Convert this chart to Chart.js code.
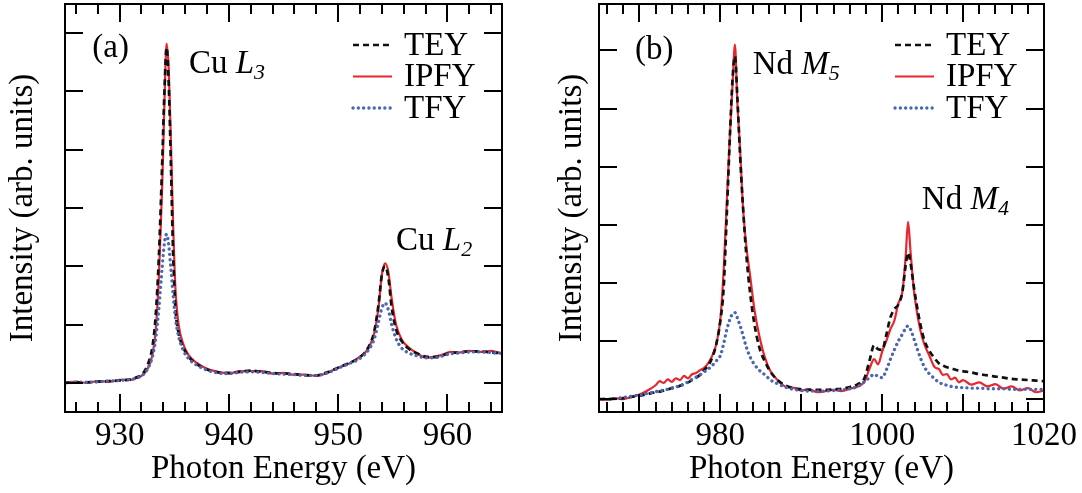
<!DOCTYPE html>
<html><head><meta charset="utf-8">
<script src="https://cdn.jsdelivr.net/npm/chart.js@4.4.1/dist/chart.umd.min.js"></script>
<style>
html,body{margin:0;padding:0;background:#fff;}
#wrap{position:relative;width:1082px;height:493px;overflow:hidden;}
canvas{position:absolute;top:0;}
</style></head><body>
<div id="wrap">
<canvas id="ca" width="540" height="493" style="left:0px;width:540px;height:493px"></canvas>
<canvas id="cb" width="542" height="493" style="left:540px;width:542px;height:493px"></canvas>
</div>
<script>
// ---------------- DATA ----------------
const seriesNames = ['TEY', 'IPFY', 'TFY'];

// Panel (a): Cu L-edge
const energyA = [925,926,927,928,929,930,931,931.5,932,932.5,933,933.3,933.6,933.9,934.1,934.3,934.5,934.7,934.9,935.1,935.4,935.8,936.3,937,938,939,940,941,942,943,944,945,946,947,948,949,950,951,952,952.8,953.3,953.7,954.0,954.3,954.6,954.9,955.3,955.8,956.5,957.3,958,958.8,959.5,960.3,961,962,963,964,965];
const teyA = [0.0,0.01,0.01,0.02,0.03,0.04,0.06,0.09,0.14,0.28,0.62,1.15,2.2,3.8,5.0,5.75,5.1,3.7,2.2,1.3,0.85,0.62,0.45,0.33,0.23,0.18,0.17,0.19,0.21,0.19,0.17,0.16,0.15,0.13,0.13,0.18,0.26,0.34,0.44,0.62,0.88,1.35,1.85,2.0,1.8,1.3,0.92,0.72,0.58,0.5,0.45,0.44,0.47,0.51,0.52,0.54,0.54,0.52,0.51];
const ipfyA = [0.0,0.02,0.0,0.03,0.02,0.05,0.05,0.08,0.12,0.22,0.48,0.9,1.85,3.4,4.8,5.82,5.35,4.1,2.7,1.65,1.0,0.68,0.48,0.35,0.24,0.19,0.16,0.2,0.2,0.2,0.16,0.17,0.14,0.14,0.12,0.17,0.26,0.33,0.45,0.6,0.85,1.3,1.85,2.05,1.9,1.45,1.0,0.75,0.6,0.5,0.43,0.45,0.48,0.53,0.52,0.55,0.53,0.55,0.5];
const tfyA = [0.0,0.01,0.01,0.02,0.03,0.04,0.06,0.08,0.12,0.22,0.45,0.75,1.3,2.0,2.4,2.55,2.35,1.95,1.5,1.12,0.8,0.57,0.42,0.31,0.22,0.17,0.16,0.18,0.19,0.18,0.16,0.15,0.14,0.13,0.13,0.17,0.25,0.33,0.42,0.57,0.75,1.05,1.28,1.37,1.25,1.0,0.76,0.6,0.51,0.46,0.43,0.43,0.46,0.5,0.51,0.53,0.53,0.52,0.51];

// Panel (b): Nd M-edge
const energyB = [965,966,967,968,969,970,971,972,972.5,973,973.5,974,974.5,975,975.5,976,976.5,977,977.5,978,978.5,979,979.5,980,980.4,980.8,981.2,981.5,981.8,982.1,982.4,982.8,983.2,983.7,984.2,984.8,985.5,986.2,987,988,989,990,991,992,993,994,995,996,997,997.8,998.5,999,999.5,1000,1000.5,1001,1001.5,1002,1002.5,1002.9,1003.2,1003.5,1003.9,1004.3,1004.7,1005.2,1005.8,1006.5,1007,1007.5,1008,1008.5,1009,1009.5,1010,1011,1012,1013,1014,1015,1016,1017,1018,1019,1020];
const teyB = [0.0,0.0,0.01,0.02,0.04,0.06,0.09,0.12,0.13,0.15,0.17,0.19,0.2,0.23,0.26,0.29,0.33,0.37,0.42,0.5,0.58,0.72,0.95,1.35,1.9,3.2,4.6,5.5,5.9,5.2,4.3,3.3,2.5,1.8,1.3,0.9,0.65,0.47,0.34,0.24,0.19,0.17,0.16,0.16,0.16,0.17,0.18,0.21,0.26,0.36,0.7,0.93,0.86,0.85,1.1,1.4,1.55,1.63,1.85,2.3,2.52,2.35,1.95,1.6,1.3,1.02,0.84,0.7,0.62,0.58,0.55,0.53,0.51,0.49,0.48,0.46,0.43,0.41,0.39,0.37,0.35,0.34,0.33,0.32,0.31];
const ipfyB = [0.0,-0.01,0.02,0.0,0.04,0.08,0.15,0.24,0.31,0.28,0.34,0.3,0.36,0.33,0.4,0.36,0.43,0.45,0.5,0.54,0.62,0.75,0.95,1.38,2.2,3.4,4.6,5.4,6.1,5.1,4.4,3.3,2.65,2.1,1.55,1.1,0.72,0.48,0.34,0.22,0.2,0.15,0.17,0.12,0.14,0.16,0.14,0.18,0.22,0.3,0.55,0.69,0.6,0.82,1.0,1.2,1.35,1.65,1.85,2.45,3.05,2.55,1.9,1.5,1.2,0.95,0.76,0.55,0.52,0.42,0.43,0.34,0.37,0.29,0.33,0.25,0.29,0.22,0.26,0.18,0.22,0.15,0.19,0.12,0.15];
const tfyB = [0.0,0.0,0.01,0.03,0.05,0.07,0.1,0.13,0.14,0.16,0.17,0.19,0.21,0.23,0.26,0.3,0.34,0.38,0.42,0.47,0.52,0.58,0.66,0.75,0.95,1.2,1.38,1.47,1.49,1.4,1.28,1.1,0.9,0.72,0.6,0.5,0.42,0.33,0.27,0.21,0.17,0.15,0.14,0.14,0.14,0.15,0.16,0.18,0.22,0.3,0.38,0.43,0.39,0.37,0.5,0.68,0.85,1.0,1.12,1.22,1.26,1.2,1.05,0.88,0.72,0.56,0.44,0.35,0.29,0.26,0.24,0.22,0.21,0.2,0.2,0.19,0.19,0.18,0.18,0.18,0.17,0.17,0.17,0.17,0.17];

// Tick labels / tick positions
const xTickLabelsA = [930, 940, 950, 960];
const xTickLabelsB = [980, 1000, 1020];
const xMajorA = [930, 940, 950, 960];
const xMajorB = [970, 980, 990, 1000, 1010, 1020];
const yMajor = [0, 1, 2, 3, 4, 5, 6];

// ---------------- STYLE ----------------
const FONT = '"Liberation Serif", "Times New Roman", Times, serif';
const FS = 33;
const styles = {
  TEY:  {borderColor: '#111111', borderWidth: 2.7, borderDash: [6, 4], borderCapStyle: 'butt', order: 2},
  IPFY: {borderColor: '#e8262e', borderWidth: 2.2, borderDash: [], borderCapStyle: 'butt', order: 3},
  TFY:  {borderColor: '#4a67b0', borderWidth: 3.3, borderDash: [0.1, 5.2], borderCapStyle: 'round', order: 1}
};

function pts(xs, ys) { return xs.map((x, i) => ({x: x, y: ys[i]})); }

function drawRich(ctx, x, y, parts) {
  let cx = x;
  parts.forEach(p => {
    const size = p.sub ? 22 : FS;
    ctx.font = (p.it ? 'italic ' : '') + size + 'px ' + FONT;
    ctx.fillText(p.t, cx, y + (p.sub ? 6 : 0));
    cx += ctx.measureText(p.t).width;
  });
}

const framePlugin = {
  id: 'frame',
  afterDraw(chart, args, o) {
    const ctx = chart.ctx, a = chart.chartArea, x = chart.scales.x, y = chart.scales.y;
    ctx.save();
    ctx.strokeStyle = '#000';
    ctx.lineWidth = 2;
    ctx.lineCap = 'butt';
    ctx.setLineDash([]);
    ctx.beginPath();
    for (let v = Math.ceil(x.min / 2) * 2; v < x.max; v += 2) {
      const px = Math.round(x.getPixelForValue(v));
      const len = o.xMajor.includes(v) ? 18 : 10;
      ctx.moveTo(px, a.bottom); ctx.lineTo(px, a.bottom - len);
      ctx.moveTo(px, a.top); ctx.lineTo(px, a.top + len);
    }
    o.yMajor.forEach(v => {
      const py = Math.round(y.getPixelForValue(v));
      ctx.moveTo(a.left, py); ctx.lineTo(a.left + 18, py);
      ctx.moveTo(a.right, py); ctx.lineTo(a.right - 18, py);
    });
    ctx.stroke();
    ctx.strokeRect(a.left, a.top, a.right - a.left, a.bottom - a.top);

    // legend
    ctx.textBaseline = 'middle';
    ctx.textAlign = 'left';
    seriesNames.forEach((name, i) => {
      const ds = chart.data.datasets.find(d => d.label === name);
      const cy = a.top + 41 + i * 31.5;
      ctx.beginPath();
      ctx.strokeStyle = ds.borderColor;
      ctx.lineWidth = ds.borderWidth;
      ctx.setLineDash(ds.borderDash);
      ctx.lineCap = ds.borderCapStyle;
      ctx.moveTo(a.right - 149, cy); ctx.lineTo(a.right - 110, cy);
      ctx.stroke();
      ctx.setLineDash([]);
      ctx.fillStyle = '#000';
      ctx.font = FS + 'px ' + FONT;
      ctx.fillText(name, a.right - 98, cy + 1);
    });

    // annotations
    ctx.textBaseline = 'alphabetic';
    ctx.fillStyle = '#000';
    o.notes.forEach(n => {
      drawRich(ctx, x.getPixelForValue(n.x), y.getPixelForValue(n.y), n.parts);
    });
    ctx.restore();
  }
};

function makeChart(id, energies, tey, ipfy, tfy, cfg) {
  const data = {TEY: tey, IPFY: ipfy, TFY: tfy};
  const datasets = seriesNames.map(n => Object.assign({
    label: n,
    data: pts(energies, data[n]),
    pointRadius: 0,
    fill: false,
    cubicInterpolationMode: 'monotone'
  }, styles[n]));
  return new Chart(document.getElementById(id), {
    type: 'line',
    data: {datasets: datasets},
    options: {
      responsive: false,
      animation: false,
      events: [],
      layout: {padding: {left: 0, right: cfg.padRight, top: 4, bottom: 0}},
      plugins: {
        legend: {display: false},
        tooltip: {enabled: false},
        frame: {xMajor: cfg.xMajor, yMajor: yMajor, notes: cfg.notes}
      },
      scales: {
        x: {
          type: 'linear', min: cfg.xmin, max: cfg.xmax,
          grid: {display: false, drawTicks: false},
          border: {display: false},
          afterBuildTicks: s => { s.ticks = cfg.xLabels.map(v => ({value: v})); },
          afterFit: s => { s.height = 81; },
          ticks: {autoSkip: false, maxRotation: 0, padding: 5, color: '#000',
                  font: {family: FONT, size: FS}, callback: v => String(v)},
          title: {display: true, text: 'Photon Energy (eV)', color: '#000',
                  font: {family: FONT, size: FS}, padding: {top: 0, bottom: 4}}
        },
        y: {
          type: 'linear', min: cfg.ymin, max: cfg.ymax,
          grid: {display: false, drawTicks: false},
          border: {display: false},
          ticks: {display: false},
          afterFit: s => { s.width = cfg.yWidth; },
          title: {display: true, text: 'Intensity (arb. units)', color: '#000',
                  font: {family: FONT, size: FS}, padding: {top: cfg.yTitlePad, bottom: 0}}
        }
      }
    },
    plugins: [framePlugin]
  });
}

makeChart('ca', energyA, teyA, ipfyA, tfyA, {
  xmin: 925, xmax: 965, ymin: -0.5, ymax: 6.5,
  xLabels: xTickLabelsA, xMajor: xMajorA,
  yWidth: 65, padRight: 38, yTitlePad: 3.7,
  notes: [
    {x: 927.5, y: 5.59, parts: [{t: '(a)'}]},
    {x: 936.35, y: 5.32, parts: [{t: 'Cu '}, {t: 'L', it: true}, {t: '3', it: true, sub: true}]},
    {x: 955.3, y: 2.28, parts: [{t: 'Cu '}, {t: 'L', it: true}, {t: '2', it: true, sub: true}]}
  ]
});

makeChart('cb', energyB, teyB, ipfyB, tfyB, {
  xmin: 965, xmax: 1020, ymin: -0.22, ymax: 6.8,
  xLabels: xTickLabelsB, xMajor: xMajorB,
  yWidth: 59, padRight: 37, yTitlePad: 12.2,
  notes: [
    {x: 969.45, y: 5.86, parts: [{t: '(b)'}]},
    {x: 984.0, y: 5.59, parts: [{t: 'Nd '}, {t: 'M', it: true}, {t: '5', it: true, sub: true}]},
    {x: 1004.9, y: 3.28, parts: [{t: 'Nd '}, {t: 'M', it: true}, {t: '4', it: true, sub: true}]}
  ]
});
</script>
</body></html>
